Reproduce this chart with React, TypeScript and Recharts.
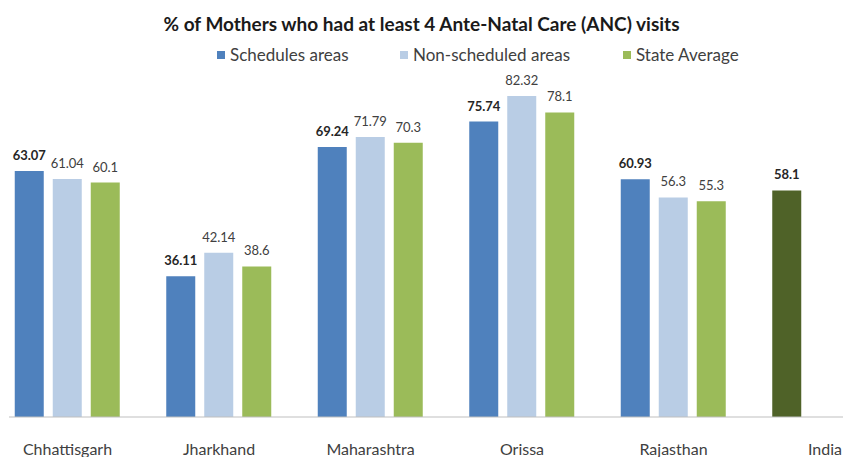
import React from "react";
import { BarChart, Bar, XAxis, YAxis, LabelList, Cell, Legend } from "recharts";

const categories = ["Chhattisgarh", "Jharkhand", "Maharashtra", "Orissa", "Rajasthan", "India"];
const scheduledAreas = [63.07, 36.11, 69.24, 75.74, 60.93, 58.1];
const nonScheduledAreas = [61.04, 42.14, 71.79, 82.32, 56.3, null];
const stateAverage = [60.1, 38.6, 70.3, 78.1, 55.3, null];

const seriesNames = ["Schedules areas", "Non-scheduled areas", "State Average"];
const seriesColors = ["#4F81BD", "#B9CDE5", "#9BBB59"];
const indiaColor = "#4F6228";

const data = categories.map((c, i) => ({
  name: c,
  s: scheduledAreas[i],
  n: nonScheduledAreas[i],
  a: stateAverage[i],
}));

const FONT = "Lato, 'Open Sans', sans-serif";

const Tick = (props: any) => {
  const { x, y, payload } = props;
  return (
    <text x={x} y={y + 30} textAnchor="middle" fontFamily={FONT} fontSize={16} fill="#404040">
      {payload.value}
    </text>
  );
};

const legendLefts = [217, 400, 623];

const LegendContent = () => (
  <div style={{ position: "relative", width: 843, height: 22 }}>
    {seriesNames.map((n, i) => (
      <div
        key={n}
        style={{
          position: "absolute",
          left: legendLefts[i],
          top: 0,
          display: "flex",
          alignItems: "center",
          fontFamily: FONT,
          fontSize: 17,
          color: "#404040",
          whiteSpace: "nowrap",
        }}
      >
        <span style={{ display: "inline-block", width: 8, height: 8, background: seriesColors[i], marginRight: 5 }} />
        {n}
      </div>
    ))}
  </div>
);

const fmt = (v: any) => (v == null ? "" : String(v));

export default function App() {
  return (
    <div style={{ position: "absolute", left: 0, top: 0, width: 843, height: 457, overflow: "hidden", background: "#fff" }}>
      <div
        style={{
          position: "absolute",
          left: 0,
          top: 12,
          width: 843,
          textAlign: "center",
          fontFamily: FONT,
          fontWeight: 700,
          fontSize: 19,
          lineHeight: "23px",
          color: "#1a1a1a",
          zIndex: 2,
        }}
      >
        % of Mothers who had at least 4 Ante-Natal Care (ANC) visits
      </div>
      <BarChart
        width={920}
        height={457}
        data={data}
        margin={{ top: 27, right: 0, bottom: 0, left: 9 }}
        barSize={29}
        barGap={9}
      >
        <XAxis
          dataKey="name"
          height={40}
          padding={{ left: -17.25, right: 19.25 }}
          tickLine={false}
          axisLine={{ stroke: "#BFBFBF" }}
          tick={<Tick />}
          interval={0}
        />
        <YAxis hide domain={[0, 100]} />
        <Legend
          layout="horizontal"
          verticalAlign="middle"
          align="center"
          content={<LegendContent />}
          wrapperStyle={{ position: "absolute", top: 44, left: 0, width: 843 }}
        />
        <Bar dataKey="s" name={seriesNames[0]} fill={seriesColors[0]} isAnimationActive={false}>
          {data.map((d, i) => (
            <Cell key={i} fill={d.name === "India" ? indiaColor : seriesColors[0]} />
          ))}
          <LabelList dataKey="s" position="top" offset={11} formatter={fmt} fontFamily={FONT} fontSize={13} fontWeight={700} fill="#262626" />
        </Bar>
        <Bar dataKey="n" name={seriesNames[1]} fill={seriesColors[1]} isAnimationActive={false}>
          <LabelList dataKey="n" position="top" offset={11} formatter={fmt} fontFamily={FONT} fontSize={13} fill="#404040" />
        </Bar>
        <Bar dataKey="a" name={seriesNames[2]} fill={seriesColors[2]} isAnimationActive={false}>
          <LabelList dataKey="a" position="top" offset={11} formatter={fmt} fontFamily={FONT} fontSize={13} fill="#404040" />
        </Bar>
      </BarChart>
    </div>
  );
}
